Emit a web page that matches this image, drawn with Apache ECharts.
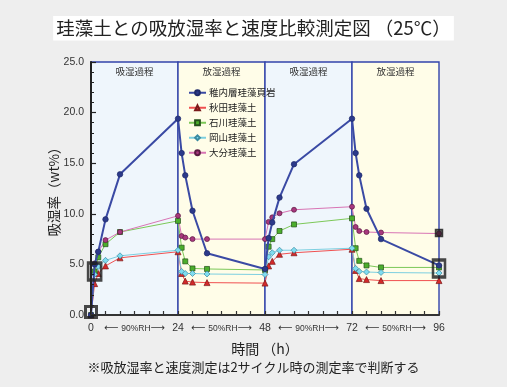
<!DOCTYPE html>
<html><head><meta charset="utf-8">
<script src="https://cdn.jsdelivr.net/npm/echarts@6/dist/echarts.min.js"></script>
<style>html,body{margin:0;padding:0;background:#eeeeee;}#c{width:507px;height:387px;}</style>
</head><body><div id="c"></div>
<script>
// ---- data ----
const titleText = '珪藻土との吸放湿率と速度比較測定図 （25℃）';
const footerText = '※吸放湿率と速度測定は2サイクル時の測定率で判断する';
const times = [0, 1, 2, 4, 8, 24, 25, 26, 28, 32, 48, 49, 50, 52, 56, 72, 73, 74, 76, 80, 96];
const seriesNames = ['稚内層珪藻頁岩', '秋田珪藻土', '石川珪藻土', '岡山珪藻土', '大分珪藻土'];
const wakkanai = [0, 5.0, 6.25, 9.45, 13.9, 19.4, 16.0, 13.8, 10.3, 6.1, 4.55, 7.6, 9.15, 11.6, 14.9, 19.4, 16.0, 13.8, 10.5, 7.5, 4.9];
const akita    = [0, 3.1, 4.1, 4.85, 5.65, 6.25, 4.1, 3.35, 3.25, 3.2, 3.15, 4.85, 5.3, 6.0, 6.15, 6.5, 4.4, 3.6, 3.5, 3.4, 3.4];
const ishikawa = [0, 4.3, 5.7, 7.0, 8.2, 9.3, 6.65, 5.3, 4.6, 4.55, 4.45, 6.75, 7.5, 8.3, 8.95, 9.55, 6.6, 5.35, 4.9, 4.7, 4.7];
const okayama  = [0, 4.0, 4.8, 5.4, 5.85, 6.4, 4.3, 4.1, 4.1, 4.05, 4.0, 5.75, 6.15, 6.4, 6.4, 6.6, 4.6, 4.3, 4.25, 4.2, 4.15];
const oita     = [0, 5.1, 6.25, 7.4, 8.2, 9.8, 7.8, 7.65, 7.5, 7.5, 7.5, 9.2, 9.65, 10.05, 10.4, 10.7, 8.7, 8.3, 8.2, 8.15, 8.05];
const phaseBounds = [0, 24, 48, 72, 96];
const phaseNames = ['吸湿過程', '放湿過程', '吸湿過程', '放湿過程'];
const rhLabels = ['90%RH', '50%RH', '90%RH', '50%RH'];
const yTicks = [0, 5, 10, 15, 20, 25];
const highlightPts = [[0, 0.3], [1, 4.3], [96, 4.6], [96, 8.1]];

// ---- styles ----
const allData = [wakkanai, akita, ishikawa, okayama, oita];
const styles = [
  {line: '#3a4aa4', w: 2, sym: 'circle', size: 5.5, fill: '#2c3a8a', border: '#1e2a6a'},
  {line: '#f05050', w: 1, sym: 'triangle', size: 6, fill: '#d42a2a', border: '#7a1a1a'},
  {line: '#7cc858', w: 1, sym: 'rect', size: 5, fill: '#4cae2c', border: '#24501a'},
  {line: '#7ccfe0', w: 1, sym: 'diamond', size: 6, fill: '#80dcf0', border: '#3a8aa0'},
  {line: '#d874b4', w: 1, sym: 'circle', size: 5, fill: '#a8387e', border: '#5a1a40'}
];
const phaseColors = ['#eff6fc', '#fffde8'];
const hlStyles = [
  {size: [11, 11], fill: 'transparent', bw: 3},
  {size: [13, 17], fill: 'transparent', bw: 3},
  {size: [12, 17], fill: 'transparent', bw: 3},
  {size: [7, 7], fill: 'rgba(30,30,30,0.85)', bw: 1.5}
];

const series = [];
series.push({
  type: 'line', data: [], z: 1, silent: true,
  markArea: {
    silent: true,
    data: phaseNames.map((n, i) => [
      {name: n, xAxis: phaseBounds[i], yAxis: 0,
       itemStyle: {color: phaseColors[i % 2], borderColor: '#3344aa', borderWidth: 1.4}},
      {xAxis: phaseBounds[i + 1], yAxis: 25}
    ]),
    label: {show: true, position: 'insideTop', distance: 5, fontSize: 9.5, color: '#333',
            fontFamily: 'Noto Sans CJK JP'}
  }
});
seriesNames.forEach((n, i) => {
  const s = styles[i];
  series.push({
    name: n, type: 'line', z: i === 0 ? 5 : 3,
    data: times.map((t, k) => [t, allData[i][k]]),
    symbol: s.sym, symbolSize: s.size, showSymbol: true,
    lineStyle: {color: s.line, width: s.w},
    itemStyle: {color: s.fill, borderColor: s.border, borderWidth: 0.7},
    emphasis: {disabled: true}, animation: false
  });
});
series.push({
  type: 'scatter', z: 8, silent: true, animation: false,
  data: highlightPts.map((p, i) => ({
    value: p, symbol: 'rect', symbolSize: hlStyles[i].size,
    itemStyle: {color: hlStyles[i].fill, borderColor: '#1c1c1c', borderWidth: hlStyles[i].bw}
  }))
});

const chart = echarts.init(document.getElementById('c'), null, {renderer: 'canvas'});
chart.setOption({
  backgroundColor: '#eeeeee',
  animation: false,
  title: {
    text: titleText, left: 'center', top: 16,
    backgroundColor: '#ffffff', padding: [3, 3, 3, 3],
    textStyle: {fontSize: 18.5, fontWeight: 'normal', color: '#222', fontFamily: 'Noto Sans CJK JP'}
  },
  legend: {
    data: seriesNames, orient: 'vertical', left: 183, top: 83,
    itemWidth: 17, itemHeight: 6, itemGap: 5.5,
    textStyle: {fontSize: 9.5, color: '#222', fontFamily: 'Noto Sans CJK JP', padding: [0, 0, 0, -2]}
  },
  grid: {left: 91, right: 68, top: 62, bottom: 72, containLabel: false},
  xAxis: {
    type: 'value', min: 0, max: 96, interval: 4, z: 10,
    name: '時間 （h）', nameLocation: 'middle', nameGap: 27, nameMoveOverlap: false,
    nameTextStyle: {fontSize: 14, color: '#222', fontFamily: 'Noto Sans CJK JP'},
    axisLine: {show: true, lineStyle: {color: '#333', width: 2}},
    axisTick: {show: true, inside: true, length: 4, lineStyle: {color: '#333', width: 1.2}},
    splitLine: {show: false},
    axisLabel: {
      margin: 8, color: '#333', fontSize: 10.5, fontFamily: 'Liberation Sans',
      formatter: function (v) {
        if (v % 24 === 0) return String(v);
        if (v % 24 === 12) {
          const idx = Math.floor(v / 24);
          return '{a|⟵} {s|' + rhLabels[idx] + '}{a|⟶}';
        }
        return '';
      },
      rich: {
        a: {fontSize: 10, fontFamily: 'DejaVu Sans', color: '#333'},
        s: {fontSize: 8.5, fontFamily: 'Liberation Sans', color: '#333'}
      }
    }
  },
  yAxis: {
    type: 'value', min: yTicks[0], max: yTicks[yTicks.length - 1], interval: 5, z: 10,
    name: '吸湿率（wt%）', nameLocation: 'middle', nameGap: 30, nameMoveOverlap: false,
    nameTextStyle: {fontSize: 13.5, color: '#222', fontFamily: 'Noto Sans CJK JP'},
    axisLine: {show: true, lineStyle: {color: '#222', width: 2}},
    axisTick: {show: true, inside: true, length: 5, lineStyle: {color: '#222', width: 1.2}},
    minorTick: {show: true, splitNumber: 5, length: 3, lineStyle: {color: '#222', width: 1}},
    splitLine: {show: false},
    axisLabel: {margin: 7, color: '#333', fontSize: 10.5, fontFamily: 'Liberation Sans',
                formatter: v => v.toFixed(1)}
  },
  graphic: [{
    type: 'text', left: 'center', top: 361,
    style: {text: footerText, fontSize: 13, fill: '#222', fontFamily: 'Noto Sans CJK JP'}
  }],
  series: series
});
</script></body></html>
